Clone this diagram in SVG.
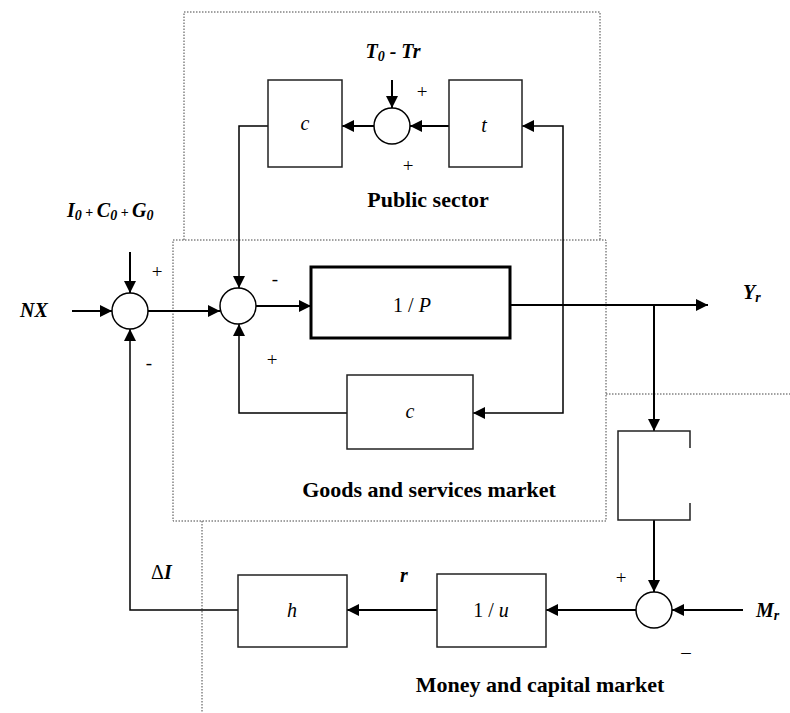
<svg xmlns="http://www.w3.org/2000/svg" width="790" height="713" viewBox="0 0 790 713">
  <defs>
    <marker id="arr" viewBox="0 0 10 10" refX="10" refY="5" markerWidth="12" markerHeight="12" markerUnits="userSpaceOnUse" orient="auto">
      <path d="M0,0 L10,5 L0,10 Z" fill="#000"/>
    </marker>
  </defs>
  <style>
    text { font-family: "Liberation Serif", "DejaVu Serif", serif; fill: #000; }
    .zone { fill: none; stroke: #444; stroke-width: 1; stroke-dasharray: 1.5 1.5; }
    .blk { fill: #fff; stroke: #222; stroke-width: 1.5; }
    .sum { fill: #fff; stroke: #000; stroke-width: 1.5; }
    .wire { fill: none; stroke: #000; stroke-width: 2; }
    .wire-thin { fill: none; stroke: #000; stroke-width: 1.5; }
    .var { font-size: 20px; font-weight: bold; font-style: italic; }
    .sub { font-size: 14px; }
    .title { font-size: 22px; font-weight: bold; text-anchor: middle; }
    .sign { font-size: 19px; text-anchor: middle; }
    .gain { font-size: 20px; text-anchor: middle; }
  </style>

  <!-- sector boundaries -->
  <g id="zones">
    <path class="zone" d="M184,240 V12 H600 V240"/>
    <rect class="zone" x="173" y="240" width="433" height="281"/>
    <path class="zone" d="M606,394 H790"/>
    <path class="zone" d="M202,521 V713"/>
  </g>

  <!-- connectors -->
  <g id="connectors">
    <!-- public sector loop -->
    <line class="wire" x1="392" y1="80" x2="392" y2="108" marker-end="url(#arr)"/>
    <line class="wire" x1="449" y1="126" x2="410" y2="126" marker-end="url(#arr)"/>
    <line class="wire" x1="374" y1="126" x2="342" y2="126" marker-end="url(#arr)"/>
    <path class="wire-thin" d="M268,126 H239 V288" marker-end="url(#arr)"/>
    <path class="wire-thin" d="M522,305 H563 V126 H522" marker-end="url(#arr)"/>
    <!-- goods market -->
    <line class="wire" x1="72" y1="311" x2="112" y2="311" marker-end="url(#arr)"/>
    <line class="wire" x1="130" y1="252" x2="130" y2="293" marker-end="url(#arr)"/>
    <line class="wire" x1="148" y1="311" x2="220" y2="311" marker-end="url(#arr)"/>
    <line class="wire" x1="256" y1="306" x2="311" y2="306" marker-end="url(#arr)"/>
    <line class="wire" x1="510" y1="305" x2="708" y2="305" marker-end="url(#arr)"/>
    <path class="wire-thin" d="M563,305 V413 H473" marker-end="url(#arr)"/>
    <path class="wire-thin" d="M347,413 H239 V324" marker-end="url(#arr)"/>
    <!-- money market -->
    <line class="wire" x1="654" y1="305" x2="654" y2="431" marker-end="url(#arr)"/>
    <line class="wire" x1="654" y1="520" x2="654" y2="592" marker-end="url(#arr)"/>
    <line class="wire" x1="743" y1="610" x2="672" y2="610" marker-end="url(#arr)"/>
    <line class="wire" x1="636" y1="610" x2="546" y2="610" marker-end="url(#arr)"/>
    <line class="wire" x1="437" y1="610" x2="347" y2="610" marker-end="url(#arr)"/>
    <path class="wire-thin" d="M238,610 H130 V329" marker-end="url(#arr)"/>
  </g>

  <!-- public sector blocks -->
  <g id="block-c-public">
    <rect class="blk" x="268" y="80" width="74" height="87"/>
    <text class="gain" x="305" y="130" font-style="italic">c</text>
  </g>
  <g id="sum-public">
    <circle class="sum" cx="392" cy="126" r="18"/>
  </g>
  <g id="block-t">
    <rect class="blk" x="449" y="80" width="73" height="87"/>
    <text class="gain" x="484" y="132" font-style="italic">t</text>
  </g>
  <g id="label-public">
    <text class="var" x="393" y="58" text-anchor="middle">T<tspan class="sub" dy="3">0</tspan><tspan dy="-3"> - Tr</tspan></text>
    <text class="sign" x="422" y="98">+</text>
    <text class="sign" x="408" y="172">+</text>
    <text class="title" x="428" y="207">Public sector</text>
  </g>

  <!-- goods and services market blocks -->
  <g id="sum-nx">
    <circle class="sum" cx="130" cy="311" r="18"/>
    <text class="sign" x="157" y="278">+</text>
    <text class="sign" x="149" y="369">-</text>
  </g>
  <g id="sum-goods">
    <circle class="sum" cx="238" cy="306" r="18"/>
    <text class="sign" x="275" y="285">-</text>
    <text class="sign" x="272" y="366">+</text>
  </g>
  <g id="block-p">
    <rect x="311" y="267" width="199" height="71" fill="#fff" stroke="#000" stroke-width="3"/>
    <text class="gain" x="412" y="312">1 / <tspan font-style="italic">P</tspan></text>
  </g>
  <g id="block-c-goods">
    <rect class="blk" x="347" y="375" width="126" height="74"/>
    <text class="gain" x="410" y="418" font-style="italic">c</text>
  </g>
  <g id="label-goods">
    <text class="var" x="20" y="317">NX</text>
    <text class="var" x="67" y="217">I<tspan class="sub" dy="3">0</tspan><tspan class="sub" font-style="normal" dy="-3"> + </tspan>C<tspan class="sub" dy="3">0</tspan><tspan class="sub" font-style="normal" dy="-3"> + </tspan>G<tspan class="sub" dy="3">0</tspan></text>
    <text class="var" x="743" y="299">Y<tspan class="sub" dy="3">r</tspan></text>
    <text class="title" x="429" y="497">Goods and services market</text>
  </g>

  <!-- money and capital market blocks -->
  <g id="block-money-demand">
    <path class="blk" d="M690,448 V431 H618 V520 H690 V503"/>
  </g>
  <g id="sum-money">
    <circle class="sum" cx="654" cy="610" r="18"/>
    <text class="sign" x="621" y="584">+</text>
    <text class="sign" x="686" y="658">–</text>
  </g>
  <g id="block-u">
    <rect class="blk" x="437" y="574" width="109" height="73"/>
    <text class="gain" x="491" y="617">1 / <tspan font-style="italic">u</tspan></text>
  </g>
  <g id="block-h">
    <rect class="blk" x="238" y="575" width="109" height="72"/>
    <text class="gain" x="292" y="617" font-style="italic">h</text>
  </g>
  <g id="label-money">
    <text class="var" x="151" y="579"><tspan font-style="normal" font-weight="normal">Δ</tspan>I</text>
    <text class="var" x="400" y="582">r</text>
    <text class="var" x="756" y="617">M<tspan class="sub" dy="3">r</tspan></text>
    <text class="title" x="540" y="692">Money and capital market</text>
  </g>
</svg>
